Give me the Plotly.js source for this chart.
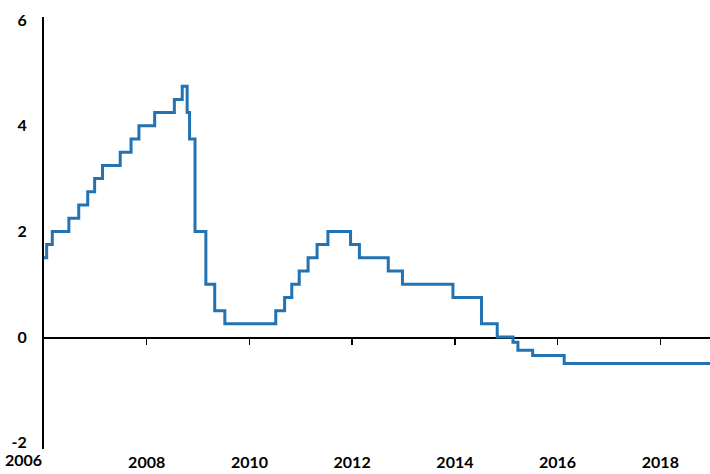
<!DOCTYPE html>
<html>
<head>
<meta charset="utf-8">
<script src="https://cdn.plot.ly/plotly-3.0.1.min.js"></script>
<style>html,body{margin:0;padding:0;background:#fff;}#chart{width:710px;height:474px;}</style>
</head>
<body>
<div id="chart"></div>
<script>
// Policy rate change dates and levels (step series)
const dates = [
  '2006-01-01','2006-01-20','2006-03-01','2006-06-27','2006-09-05','2006-11-08','2006-12-27',
  '2007-02-21','2007-06-27','2007-09-12','2007-11-07',
  '2008-02-27','2008-07-16','2008-09-10','2008-10-15','2008-11-01','2008-12-10',
  '2009-02-25','2009-04-29','2009-07-10',
  '2010-07-07','2010-09-08','2010-10-29','2010-12-21',
  '2011-02-22','2011-04-27','2011-07-13','2011-12-21',
  '2012-02-22','2012-09-14','2012-12-24',
  '2013-12-18',
  '2014-07-09','2014-10-29',
  '2015-02-18','2015-03-25','2015-07-08',
  '2016-02-17','2018-12-31'
];
const rates = [
  1.5,1.75,2.0,2.25,2.5,2.75,3.0,
  3.25,3.5,3.75,4.0,
  4.25,4.5,4.75,4.25,3.75,2.0,
  1.0,0.5,0.25,
  0.5,0.75,1.0,1.25,
  1.5,1.75,2.0,1.75,
  1.5,1.25,1.0,
  0.75,
  0.25,0.0,
  -0.1,-0.25,-0.35,
  -0.5,-0.5
];
const xTickVals = ['2008-01-01','2010-01-01','2012-01-01','2014-01-01','2016-01-01','2018-01-01'];
const xTickText = ['2008','2010','2012','2014','2016','2018'];
const firstYearLabel = '2006';
const yTickVals = [-2,0,2,4,6];
const yTickText = ['-2','0','2','4','6'];

const xRange = ['2006-01-01','2018-12-20'];
const yRange = [-2.12, 6.06];
const zeroPos = (0 - yRange[0]) / (yRange[1] - yRange[0]);
const font = {family:'Lato, "Open Sans", sans-serif', size:16, color:'#000', weight:700};

const traces = [
  {x: dates, y: rates, type:'scatter', mode:'lines', line:{shape:'hv', color:'#2372b2', width:3},
   xaxis:'x2', yaxis:'y', hoverinfo:'skip'},
  {x: dates, y: rates, type:'scatter', mode:'lines', line:{shape:'hv', color:'rgba(0,0,0,0)', width:0},
   xaxis:'x', yaxis:'y', hoverinfo:'skip', showlegend:false}
];

const layout = {
  width:710, height:474,
  margin:{l:44, r:0, t:17, b:25},
  paper_bgcolor:'#fff', plot_bgcolor:'#fff',
  showlegend:false,
  font: font,
  xaxis:{type:'date', range:xRange, tickvals:xTickVals, ticktext:xTickText, ticks:'',
         showline:false, showgrid:false, zeroline:false, tickfont:font, ticklabelstandoff:2},
  xaxis2:{type:'date', range:xRange, overlaying:'x', anchor:'free', position:zeroPos,
          tickvals:xTickVals, showticklabels:false, ticks:'outside', ticklen:6, tickwidth:1.5,
          tickcolor:'#000', showline:true, linecolor:'#000', linewidth:1.5, showgrid:false,
          zeroline:false, layer:'below traces'},
  yaxis:{range:yRange, tickvals:yTickVals, ticktext:yTickText, ticks:'', showline:true,
         linecolor:'#000', linewidth:2, showgrid:false, zeroline:false, tickfont:font,
         ticklabelstandoff:12},
  annotations:[
    {xref:'x', yref:'paper', x:'2006-01-01', y:0, yanchor:'top', xanchor:'right', yshift:1, xshift:0,
     text:firstYearLabel, showarrow:false, font:font}
  ]
};
Plotly.newPlot('chart', traces, layout, {displayModeBar:false, staticPlot:true});
</script>
</body>
</html>
